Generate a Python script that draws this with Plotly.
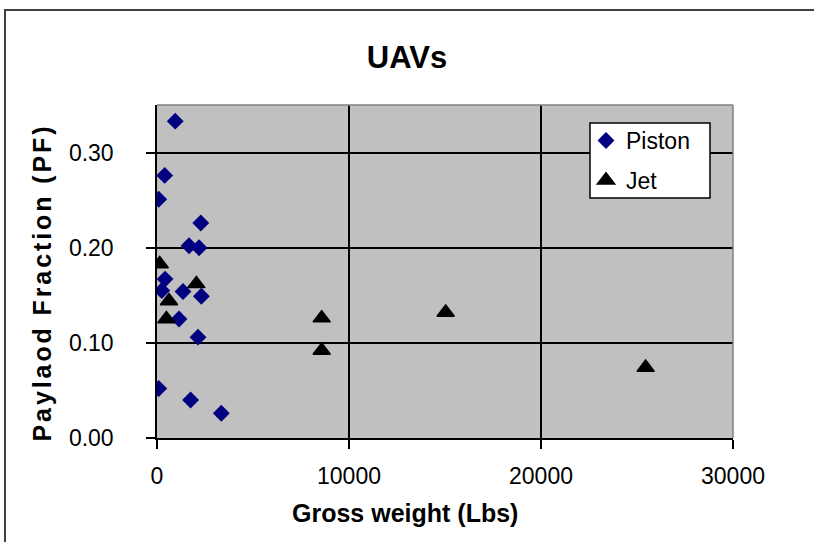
import plotly.graph_objects as go

# Gross weight (lbs) and payload fraction for piston-engined UAVs
piston_weight = [950, 400, 90, 2280, 1670, 2190, 420, 250, 1354, 2312, 1146, 2135, 90, 1750, 3350]
piston_pf = [0.333, 0.276, 0.251, 0.226, 0.202, 0.200, 0.167, 0.155, 0.154, 0.149, 0.125, 0.106, 0.052, 0.040, 0.026]

# Gross weight (lbs) and payload fraction for jet-powered UAVs
jet_weight = [140, 2050, 625, 490, 8578, 8578, 15035, 25450]
jet_pf = [0.183, 0.162, 0.144, 0.125, 0.126, 0.092, 0.132, 0.074]

x_ticks = [0, 10000, 20000, 30000]
y_ticks = [0.0, 0.1, 0.2, 0.3]

FONT = "Liberation Sans, Arial, sans-serif"
W, H = 814, 542
L, R, T, B = 157, 81, 105, 104  # plot-area margins in px

fig = go.Figure()
fig.add_trace(go.Scatter(
    x=piston_weight, y=piston_pf, mode="markers", name="Piston",
    legendgroup="piston",
    marker=dict(symbol="diamond", size=13, color="#000080",
                line=dict(width=0)),
))
fig.add_trace(go.Scatter(
    x=jet_weight, y=jet_pf, mode="markers", name="Jet",
    legendgroup="jet",
    marker=dict(symbol="triangle-up", size=15, color="#000000",
                line=dict(width=1.5, color="#000000")),
))

pw = W - L - R
ph = H - T - B


def px_x(v):
    return (v - L) / pw


def px_y(v):
    return (H - B - v) / ph


fig.update_layout(
    width=W, height=H,
    margin=dict(l=L, r=R, t=T, b=B, autoexpand=False),
    paper_bgcolor="white",
    plot_bgcolor="#C0C0C0",
    font=dict(family=FONT, color="black"),
    title=dict(text="UAVs", x=0.5, xref="container", xanchor="center",
               y=1 - 57 / H, yref="container", yanchor="middle",
               font=dict(size=31, weight="bold", color="black")),
    showlegend=True,
    legend=dict(
        x=px_x(586), y=px_y(119), xanchor="left", yanchor="top",
        bgcolor="rgba(0,0,0,0)", borderwidth=0,
        font=dict(size=23, color="black"),
        traceorder="grouped", tracegroupgap=7,
    ),
    xaxis=dict(
        range=[0, 30000], tickvals=x_ticks, ticktext=[str(v) for v in x_ticks],
        showgrid=True, gridcolor="black", gridwidth=1.5,
        showline=True, linecolor="black", linewidth=1.5,
        ticks="outside", ticklen=9, tickwidth=1.5, tickcolor="black",
        ticklabelstandoff=8,
        tickfont=dict(size=23, color="black"),
        zeroline=False,
    ),
    yaxis=dict(
        range=[0, 0.35], tickvals=y_ticks, tickformat=".2f",
        showgrid=True, gridcolor="black", gridwidth=1.5,
        showline=True, linecolor="black", linewidth=1.5,
        ticks="outside", ticklen=9, tickwidth=1.5, tickcolor="black",
        ticklabelstandoff=28,
        tickfont=dict(size=23, color="black"),
        zeroline=False,
    ),
    annotations=[
        dict(text="Gross weight (Lbs)", xref="paper", yref="paper",
             x=px_x(405), y=px_y(513), xanchor="center", yanchor="middle",
             showarrow=False,
             font=dict(size=25, weight="bold", color="black")),
        dict(text="Paylaod Fraction (PF)", xref="paper", yref="paper",
             x=px_x(42), y=px_y(283), xanchor="center", yanchor="middle",
             textangle=-90, showarrow=False,
             font=dict(size=25, weight="bold", color="black")),
    ],
    shapes=[
        # grey border on the open sides of the plot area
        dict(type="line", xref="paper", yref="paper", x0=0, x1=1, y0=1, y1=1,
             line=dict(color="#808080", width=1.5)),
        dict(type="line", xref="paper", yref="paper", x0=1, x1=1, y0=0, y1=1,
             line=dict(color="#808080", width=1.5)),
        # legend box
        dict(type="rect", xref="paper", yref="paper",
             x0=px_x(590), x1=px_x(710), y0=px_y(123), y1=px_y(198),
             fillcolor="white", line=dict(color="black", width=1.5),
             layer="above"),
        # chart-area frame
        dict(type="rect", xref="paper", yref="paper",
             x0=px_x(5), x1=px_x(830), y0=px_y(10), y1=px_y(560),
             line=dict(color="#404040", width=2), layer="below"),
    ],
)

spacing_js = (
    "document.querySelectorAll('.annotation[data-index=\"1\"] text')"
    ".forEach(function(t){t.style.letterSpacing='2.9px';});"
)
fig.write_html("out.html", post_script=spacing_js)
